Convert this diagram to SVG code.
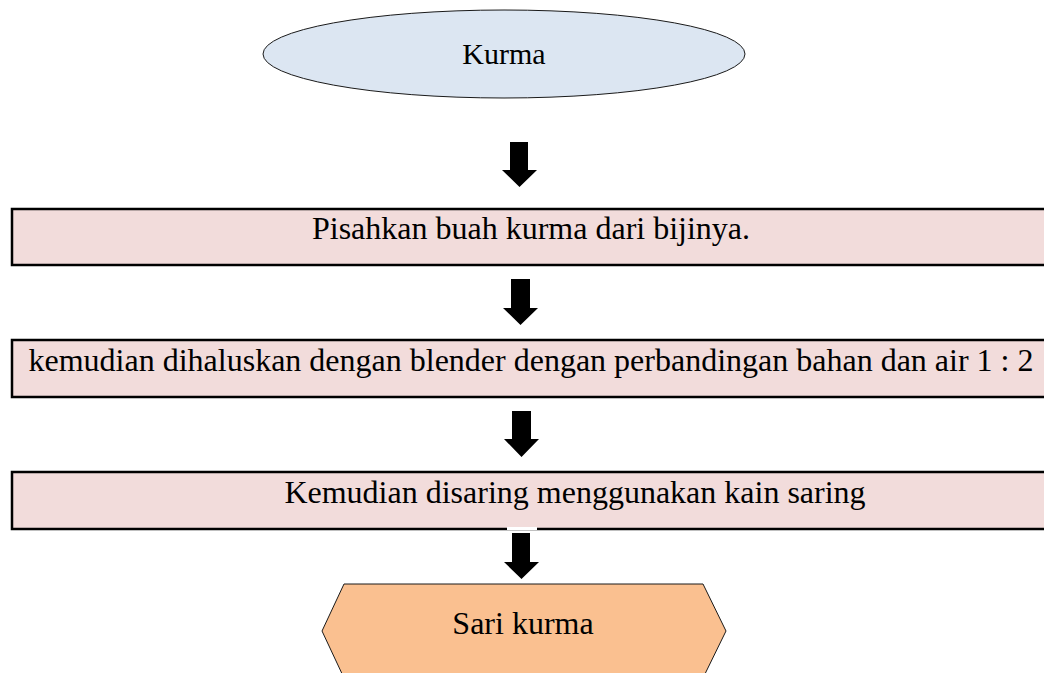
<svg xmlns="http://www.w3.org/2000/svg" width="1044" height="673" viewBox="0 0 1044 673">
<style>
.t{font-family:"Liberation Serif","Times New Roman",serif;font-size:32px;fill:#000;text-anchor:middle}
.box{fill:#f2dcdb;stroke:#000;stroke-width:2.5}
.arr{fill:#000}
</style>
<rect width="1044" height="673" fill="#fff"/>
<g id="n0">
<ellipse cx="504" cy="54" rx="241" ry="44" fill="#dce6f2" stroke="#1a1a1a" stroke-width="1"/>
<text class="t" x="504" y="64" style="font-size:30px">Kurma</text>
</g>
<g id="n1">
<rect class="box" x="12" y="209" width="1050" height="56"/>
<text class="t" x="531" y="239">Pisahkan buah kurma dari bijinya.</text>
</g>
<g id="n2">
<rect class="box" x="12" y="340" width="1050" height="57"/>
<text class="t" x="531" y="371">kemudian dihaluskan dengan blender dengan perbandingan bahan dan air 1 : 2</text>
</g>
<g id="n3">
<rect class="box" x="12" y="472" width="1050" height="57"/>
<text class="t" x="575" y="503">Kemudian disaring menggunakan kain saring</text>
</g>
<g id="n4">
<polygon points="344,584 703,584 726,631 703,678 344,678 322,631" fill="#fac090" stroke="#1a1a1a" stroke-width="1"/>
<text class="t" x="523" y="634">Sari kurma</text>
</g>
<g id="connectors">
<polygon class="arr" points="510,142 528,142 528,170 537,170 519.5,187 502,170 510,170"/>
<polygon class="arr" points="511,279 530,279 530,308 538,308 520.5,325 503,308 511,308"/>
<polygon class="arr" points="512,411 531,411 531,439 539,439 521.5,457 504,439 512,439"/>
<rect x="507" y="527" width="30" height="3" fill="#fff"/>
<polygon class="arr" points="512,533 530,533 530,562 539,562 521.5,579 504,562 512,562"/>
</g>
</svg>
